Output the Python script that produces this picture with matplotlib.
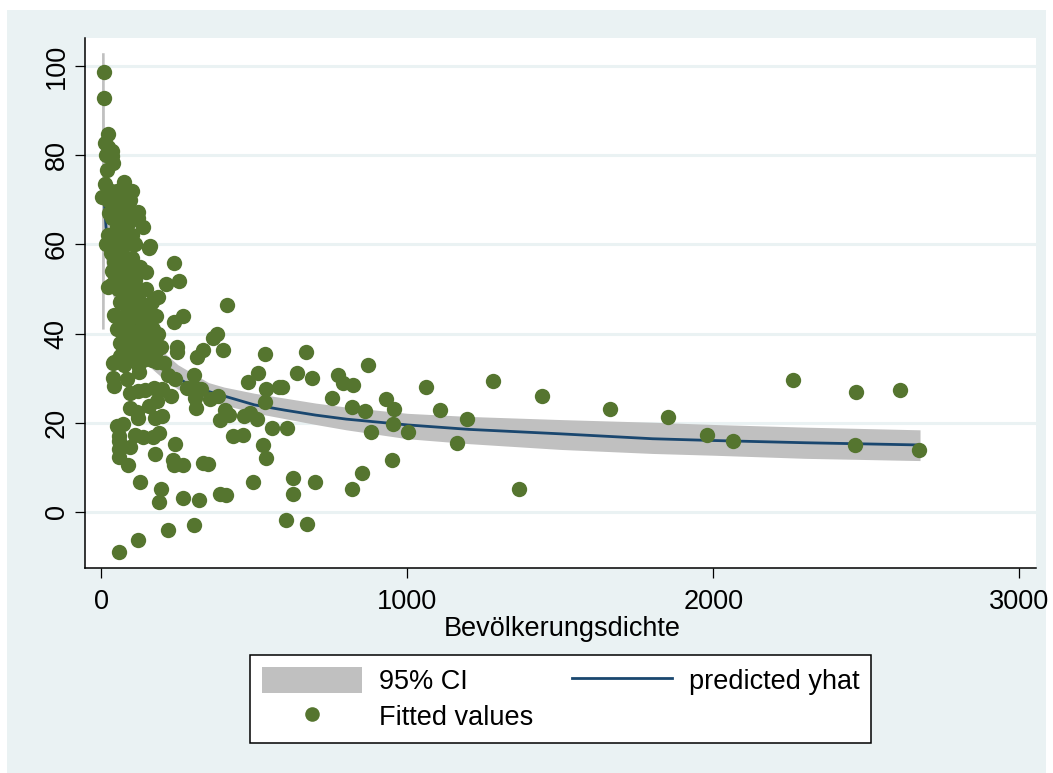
import matplotlib
matplotlib.use('Agg')
import matplotlib.pyplot as plt
from matplotlib.patches import Rectangle, Patch
from matplotlib.lines import Line2D

plt.rcParams['font.family'] = ['Liberation Sans', 'DejaVu Sans']

BG = '#EAF2F3'
GREEN = '#55752F'
NAVY = '#1A476F'
GREY = '#C0C0C0'

# regression curve and its band
curve_x = [0.5, 9, 10, 15, 25, 45, 60, 100, 150, 200, 250, 300, 350, 400, 500, 600, 700, 800,
           1000, 1200, 1500, 1800, 2000, 2300, 2675]
curve_y = [92, 70, 69, 64, 58, 54, 50, 43, 37, 33, 30, 28, 27, 26, 24, 22.8, 21.7, 20.8,
           19.5, 18.5, 17.5, 16.4, 16, 15.5, 15]
ci_low = [41, 41, 60, 56, 51, 47, 44, 38, 33, 30, 27.5, 26, 25, 24, 22.2, 20.9, 19.6, 18.4,
          16.4, 15.3, 14, 13.1, 12.7, 12, 11.5]
ci_high = [103, 103, 80, 72, 65, 61, 56, 48, 41, 36, 33, 31, 29, 28, 26.6, 25.5, 24.4, 23.5,
           22.1, 21.4, 20.7, 20.1, 19.6, 19, 18.4]

# points clear of the cluster
outer_points = [
    (2672, 13.9), (2610, 27.3), (2466, 26.9), (2463, 15), (2260, 29.6), (2064, 15.9), (1979, 17.3),
    (1851, 21.3), (1662, 23.1), (1440, 26), (1365, 5.2), (1280, 29.4), (1195, 20.9), (1162, 15.5),
    (1107, 22.9), (1061, 28), (1002, 17.9), (953, 19.7), (956, 23.1), (948, 11.7), (930, 25.3),
    (881, 17.9), (871, 33), (861, 22.6), (852, 8.7), (819, 5.2), (820, 23.6), (821, 28.4),
    (791, 28.8), (772, 30.7), (754, 25.6), (698, 6.7), (687, 30.1), (670, 35.9), (671, -2.7),
    (640, 31.2), (627, 7.5), (627, 4.1), (607, 18.8), (602, -1.9), (589, 27.9), (580, 27.9),
    (558, 18.7), (539, 12.1), (538, 27.5), (536, 35.5), (533, 24.6), (529, 15), (511, 31.2),
    (510, 20.8), (494, 6.7), (486, 22.1), (478, 29.1), (467, 21.4), (462, 17.2), (429, 17.1),
    (418, 21.7), (410, 46.4), (407, 3.7), (405, 22.8), (396, 36.4), (388, 4), (386, 20.5),
    (381, 26), (377, 40), (364, 38.9), (355, 25.3), (347, 10.8), (333, 36.3), (331, 10.9),
    (327, 27.5), (320, 2.7), (314, 34.7), (309, 23.4), (306, 25.5), (301, -3), (301, 30.7),
    (301, 28.1), (279, 27.7), (268, 44), (268, 10.5), (268, 3), (254, 51.8), (246, 35.9),
    (246, 37), (241, 29.9), (240, 15.2), (238, 10.4), (237, 55.8), (237, 42.6), (235, 11.6),
    (228, 26), (219, -4), (219, 30.7), (211, 51.2), (203, 33.3), (199, 21.5), (197, 27.5),
    (195, 5.2), (188, 17.6), (188, 2.3), (186, 48.3), (183, 24.9), (181, 33.7), (175, 13),
    (174, 21), (173, 27.7), (167, 16.7), (159, 59.7), (154, 59.2), (154, 23.7), (146, 53.9),
    (143, 27.3), (137, 63.9), (135, 16.7), (126, 6.8), (123, 31.4), (121, 67.2), (120, -6.4),
    (118, 27), (118, 21), (116, 22.5), (110, 17.2), (94, 26.7), (92, 23.4), (92, 14.6),
    (88, 10.4), (83, 29.7), (70, 19.7), (61, 37.8), (59, 17), (59, 15.8), (57, 14.1), (56, 12.4),
    (56, -8.9), (52, 19.3), (45, 43.9), (42, 28.2), (39, 33.5), (37, 30.1), (8, 98.6), (10, 92.8),
    (23, 84.7), (11, 82.7), (23, 81.8), (34, 81), (14, 80), (34, 79.9), (39, 78.2), (17, 76.7),
    (12, 73.6), (3, 70.7),
]

# the dense cluster near the y axis
cluster_points = [
    (30, 72), (40, 71), (50, 72), (60, 70), (75, 74), (85, 72), (95, 70), (100, 72), (70, 68),
    (55, 66), (45, 68), (35, 66), (25, 67), (20, 70), (22, 62), (30, 60), (40, 62), (50, 64),
    (65, 63), (80, 66), (90, 65), (105, 67), (118, 66), (100, 62), (85, 60), (70, 60), (55, 58),
    (40, 56), (30, 58), (16, 60), (21, 50.4), (35, 54), (45, 53), (60, 55), (75, 57), (85, 54),
    (100, 57), (110, 60), (70, 52), (55, 50), (42, 44.2), (60, 47), (75, 48), (90, 50), (105, 48),
    (120, 50), (130, 46), (145, 50), (165, 47), (180, 44), (150, 45), (135, 43), (120, 44),
    (105, 44), (90, 45), (75, 44), (65, 42), (80, 40), (95, 41), (110, 40), (125, 41), (140, 40),
    (155, 42), (170, 41), (185, 40), (175, 37), (160, 37), (145, 37), (130, 38), (115, 36),
    (100, 37), (85, 37), (70, 36), (60, 35), (75, 33), (90, 34), (105, 34), (120, 33), (135, 34),
    (150, 35), (165, 34), (180, 36), (195, 37), (150, 39), (140, 44), (125, 47), (110, 52),
    (95, 53), (160, 45), (130, 36), (42, 33.6), (30, 51), (125, 55), (50, 41), (120, 38),
]

x_ticks = [0, 1000, 2000, 3000]
y_ticks = [0, 20, 40, 60, 80, 100]

W, H = 1053.0, 773.0
fig = plt.figure(figsize=(W / 100, H / 100), dpi=100, facecolor='white')
fig.patches.append(Rectangle((7 / W, 0), 1039 / W, 1 - 10 / H, transform=fig.transFigure,
                             facecolor=BG, edgecolor='none', zorder=-1))

ax = fig.add_axes([85 / W, 1 - 568 / H, 951 / W, 530 / H])
ax.set_facecolor('white')
ax.fill_between(curve_x, ci_low, ci_high, color=GREY, lw=0, zorder=2)
ax.plot(curve_x[1:], curve_y[1:], color=NAVY, lw=2.0, zorder=3)
pts = outer_points + cluster_points
ax.scatter([p[0] for p in pts], [p[1] for p in pts], s=122, color=GREEN, lw=0, zorder=4)

ax.set_xlim(-53.6, 3054)
ax.set_ylim(-12.6, 106.3)
ax.set_xticks(x_ticks)
ax.set_yticks(y_ticks)
ax.grid(axis='y', color=BG, lw=2.2, zorder=1)
ax.set_axisbelow(True)
ax.spines['top'].set_visible(False)
ax.spines['right'].set_visible(False)
ax.spines['left'].set_linewidth(1.1)
ax.spines['bottom'].set_linewidth(1.1)
ax.tick_params(axis='x', labelsize=19.5, length=7.5, width=0.9, pad=7.5)
ax.tick_params(axis='y', labelsize=19.5, length=7.5, width=0.9, pad=3.5)
for lab in ax.get_yticklabels():
    lab.set_rotation(90)
    lab.set_va('center')
ax.set_xlabel('Bevölkerungsdichte', fontsize=19.5, labelpad=0.5)
ax.xaxis.label.set_x(0.502)

handles = [Patch(facecolor=GREY, edgecolor='none'),
           Line2D([], [], color='none', marker='o', markersize=10.5, markerfacecolor=GREEN,
                  markeredgecolor='none'),
           Line2D([], [], color=NAVY, lw=2.0),
           Line2D([], [], color='none')]
labels = ['95% CI', 'Fitted values', 'predicted yhat', '']
leg = fig.legend(handles, labels, ncol=2, fontsize=19.5, loc='upper left',
                 bbox_to_anchor=(250 / W, 1 - 655 / H), borderaxespad=0, frameon=True,
                 fancybox=False, framealpha=1, edgecolor='black', borderpad=0.45,
                 handlelength=3.7, handleheight=1.1, handletextpad=0.6, columnspacing=1.45,
                 labelspacing=0.26)
leg.get_frame().set_linewidth(1.1)

fig.savefig('out.png', dpi=100, facecolor='white')
